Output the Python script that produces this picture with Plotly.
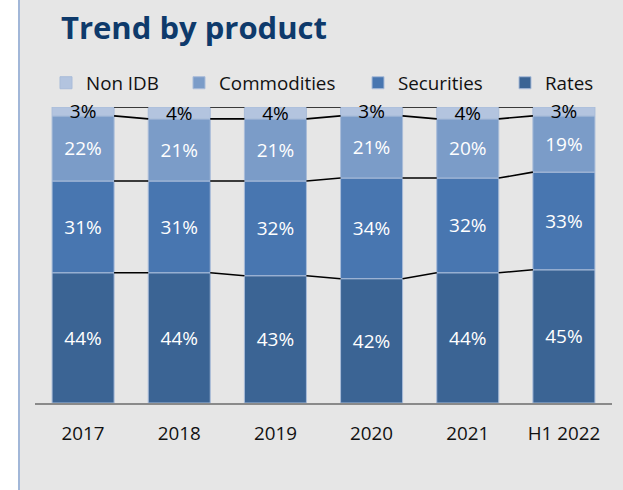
import plotly.graph_objects as go

# Share of volume by product, per period (percent)
periods = ["2017", "2018", "2019", "2020", "2021", "H1 2022"]
rates = [44, 44, 43, 42, 44, 45]
securities = [31, 31, 32, 34, 32, 33]
commodities = [22, 21, 21, 21, 20, 19]
non_idb = [3, 4, 4, 3, 4, 3]

series = [
    ("Rates", rates, "#3b6494", "white"),
    ("Securities", securities, "#4876b0", "white"),
    ("Commodities", commodities, "#7b9cc8", "white"),
    ("Non IDB", non_idb, "#b3c4df", "black"),
]

FONT = "Open Sans"
BAR_W = 0.645
xs = list(range(len(periods)))

fig = go.Figure()

legend_pos = {"Non IDB": 46, "Commodities": 179, "Securities": 358, "Rates": 505}
PLOT_L, PLOT_W = 35, 577
PLOT_TOP, PLOT_H = 107, 296

legend_layout = {}
base = [0] * len(periods)
for i, (name, vals, color, tcolor) in enumerate(series):
    lg = "legend" if i == 0 else f"legend{i + 1}"
    fig.add_trace(go.Bar(
        x=xs, y=vals, base=base[:], name=name, width=BAR_W,
        marker=dict(color=color, line=dict(color="#a9bcd9", width=1)),
        texttemplate="%{y}%", textposition="inside", insidetextanchor="middle",
        textangle=0, constraintext="none", cliponaxis=False,
        insidetextfont=dict(family=FONT, size=19, color=tcolor),
        legend=lg, hoverinfo="skip",
    ))
    legend_layout[lg] = dict(
        x=(legend_pos[name] - PLOT_L) / PLOT_W, xanchor="left",
        y=(PLOT_TOP + PLOT_H - 83) / PLOT_H, yanchor="middle",
        orientation="h", bgcolor="rgba(0,0,0,0)", borderwidth=0,
        font=dict(family=FONT, size=18.8, color="#111111"),
    )
    base = [b + v for b, v in zip(base, vals)]

    # series lines joining the top of this segment between neighbouring bars
    lx, ly = [], []
    for j in range(len(periods) - 1):
        lx += [xs[j] + BAR_W / 2, xs[j + 1] - BAR_W / 2, None]
        ly += [base[j], base[j + 1], None]
    fig.add_trace(go.Scatter(
        x=lx, y=ly, mode="lines", line=dict(color="black", width=1.6),
        showlegend=False, hoverinfo="skip", cliponaxis=False,
    ))

# frame: white strip on the left with a thin blue rule
px = lambda p: (p - PLOT_L) / PLOT_W
shapes = [
    dict(type="rect", xref="paper", yref="paper", x0=px(-5), x1=px(18),
         y0=-0.35, y1=1.4, fillcolor="white", line=dict(width=0), layer="below"),
    dict(type="line", xref="paper", yref="paper", x0=px(19), x1=px(19),
         y0=-0.35, y1=1.4, line=dict(color="#a2b7d8", width=2)),
]

fig.update_layout(
    width=623, height=490,
    margin=dict(l=PLOT_L, r=623 - PLOT_L - PLOT_W, t=PLOT_TOP, b=490 - PLOT_TOP - PLOT_H),
    paper_bgcolor="#e6e6e6", plot_bgcolor="#e6e6e6",
    barmode="overlay", showlegend=True,
    title=dict(text="<b>Trend by product</b>", xref="container", yref="container",
               x=61 / 623, xanchor="left", y=1 - 28 / 490, yanchor="middle",
               font=dict(family=FONT, size=31, color="#0e3a6b")),
    shapes=shapes,
    xaxis=dict(range=[-0.5, len(periods) - 0.5], tickvals=xs, ticktext=periods,
               showgrid=False, zeroline=False, showline=True, linecolor="#8a8a8a",
               linewidth=2, ticks="", ticklabelstandoff=12,
               tickfont=dict(family=FONT, size=18.8, color="#111111")),
    yaxis=dict(range=[0, 100], visible=False),
    **legend_layout,
)

fig.write_html("out.html")
